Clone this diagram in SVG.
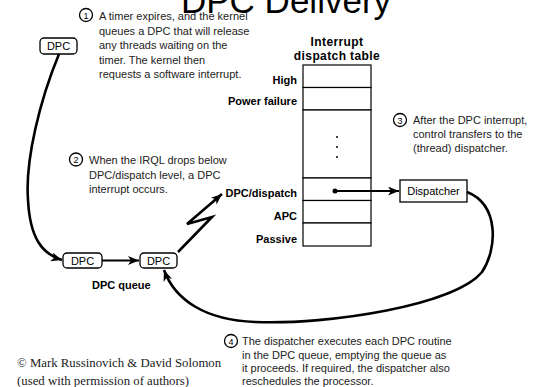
<svg xmlns="http://www.w3.org/2000/svg" width="536" height="387" viewBox="0 0 536 387">
<defs>
<marker id="ah" markerUnits="userSpaceOnUse" markerWidth="12" markerHeight="10" refX="11" refY="4.5" orient="auto">
<path d="M0,0 L11,4.5 L0,9 L3,4.5 z" fill="#000"/>
</marker>
</defs>
<style>
text{font-family:"Liberation Sans",Arial,sans-serif;fill:#000}
.note{font-size:11px;fill:#222}
.lbl{font-size:11px;font-weight:bold;text-anchor:end}
.hdr{font-size:12px;font-weight:bold;text-anchor:middle;letter-spacing:0.4px}
.box{fill:#fff;stroke:#000;stroke-width:1.3}
.cell{fill:#fff;stroke:#000;stroke-width:1.2}
.num{fill:#fff;stroke:#000;stroke-width:1.3}
.numt{font-size:9px;text-anchor:middle}
.wire{fill:none;stroke:#000;stroke-width:2.6}
.thin{fill:none;stroke:#000;stroke-width:2}
.copy{font-family:"Liberation Serif","Times New Roman",serif;font-size:12.8px;fill:#222}
</style>
<rect width="536" height="387" fill="#fff"/>
<text x="181" y="12.5" font-size="35">DPC Delivery</text>

<g id="step1">
<circle class="num" cx="86" cy="15" r="6.5"/><text class="numt" x="86" y="18.5">1</text>
<text class="note" x="99" y="20">A timer expires, and the kernel</text>
<text class="note" x="99" y="34.5">queues a DPC that will release</text>
<text class="note" x="99" y="49">any threads waiting on the</text>
<text class="note" x="99" y="63.5">timer. The kernel then</text>
<text class="note" x="99" y="78">requests a software interrupt.</text>
</g>

<g id="step2">
<circle class="num" cx="76" cy="159.5" r="6.5"/><text class="numt" x="76" y="163">2</text>
<text class="note" x="89" y="164" font-size="11.4">When the IRQL drops below</text>
<text class="note" x="89" y="178.5" font-size="11.4">DPC/dispatch level, a DPC</text>
<text class="note" x="89" y="193" font-size="11.4">interrupt occurs.</text>
</g>

<g id="step3">
<circle class="num" cx="400" cy="120" r="6.5"/><text class="numt" x="400" y="123.5">3</text>
<text class="note" x="413" y="124" font-size="11.4">After the DPC interrupt,</text>
<text class="note" x="413" y="138" font-size="11.4">control transfers to the</text>
<text class="note" x="413" y="152" font-size="11.4">(thread) dispatcher.</text>
</g>

<g id="step4">
<circle class="num" cx="231" cy="341" r="6.5"/><text class="numt" x="231" y="344.5">4</text>
<text class="note" x="242" y="344.5" font-size="10.5">The dispatcher executes each DPC routine</text>
<text class="note" x="242" y="358.5" font-size="10.5">in the DPC queue, emptying the queue as</text>
<text class="note" x="242" y="372" font-size="10.5">it proceeds. If required, the dispatcher also</text>
<text class="note" x="242" y="385" font-size="10.5">reschedules the processor.</text>
</g>

<g id="dpc-top">
<rect class="box" x="40" y="38" width="37" height="16" rx="4"/>
<text x="58.5" y="50" font-size="11" text-anchor="middle">DPC</text>
</g>

<g id="dpc-queue-1">
<rect class="box" x="63" y="253" width="39" height="15" rx="4"/>
<text x="82.5" y="264.5" font-size="11" text-anchor="middle">DPC</text>
</g>
<g id="dpc-queue-2">
<rect class="box" x="140" y="253" width="37" height="15" rx="4"/>
<text x="158.5" y="264.5" font-size="11" text-anchor="middle">DPC</text>
</g>
<text x="92" y="289" font-size="11" font-weight="bold">DPC queue</text>

<g id="idt">
<text class="hdr" x="337" y="46">Interrupt</text>
<text class="hdr" x="337" y="60">dispatch table</text>
<rect class="cell" x="303" y="65" width="68" height="22.5"/>
<rect class="cell" x="303" y="87.5" width="68" height="22.5"/>
<rect class="cell" x="303" y="110" width="68" height="68"/>
<rect class="cell" x="303" y="178" width="68" height="22.5"/>
<rect class="cell" x="303" y="200.5" width="68" height="22.5"/>
<rect class="cell" x="303" y="223" width="68" height="23"/>
<circle cx="337" cy="137" r="1"/><circle cx="337" cy="147" r="1"/><circle cx="337" cy="157" r="1"/>
<text class="lbl" x="297" y="84">High</text>
<text class="lbl" x="297" y="105">Power failure</text>
<text class="lbl" x="297" y="197">DPC/dispatch</text>
<text class="lbl" x="297" y="220">APC</text>
<text class="lbl" x="297" y="243">Passive</text>
</g>

<g id="dispatcher">
<rect x="400" y="180" width="67" height="22" fill="#fff" stroke="#000" stroke-width="1.3"/>
<text x="433.5" y="195" font-size="11" text-anchor="middle" fill="#222">Dispatcher</text>
</g>

<g id="connectors">
<path class="wire" d="M59,54 C40,100 25,160 28,200 C30,238 42,254 62,260" marker-end="url(#ah)"/>
<path class="thin" d="M102,260.5 L139,260.5" marker-end="url(#ah)"/>
<path class="wire" d="M178,252 L212,217 L187,224 L222,194" marker-end="url(#ah)"/>
<circle cx="335" cy="191" r="2.5"/>
<path class="thin" d="M335,191 L399,191" marker-end="url(#ah)"/>
<path class="wire" d="M467,192 C500,205 497,250 482,272 C455,305 330,325 255,322 C205,320 175,300 164,270" marker-end="url(#ah)"/>
</g>

<text class="copy" x="17" y="367">© Mark Russinovich &amp; David Solomon</text>
<text class="copy" x="17" y="384.5">(used with permission of authors)</text>
</svg>
